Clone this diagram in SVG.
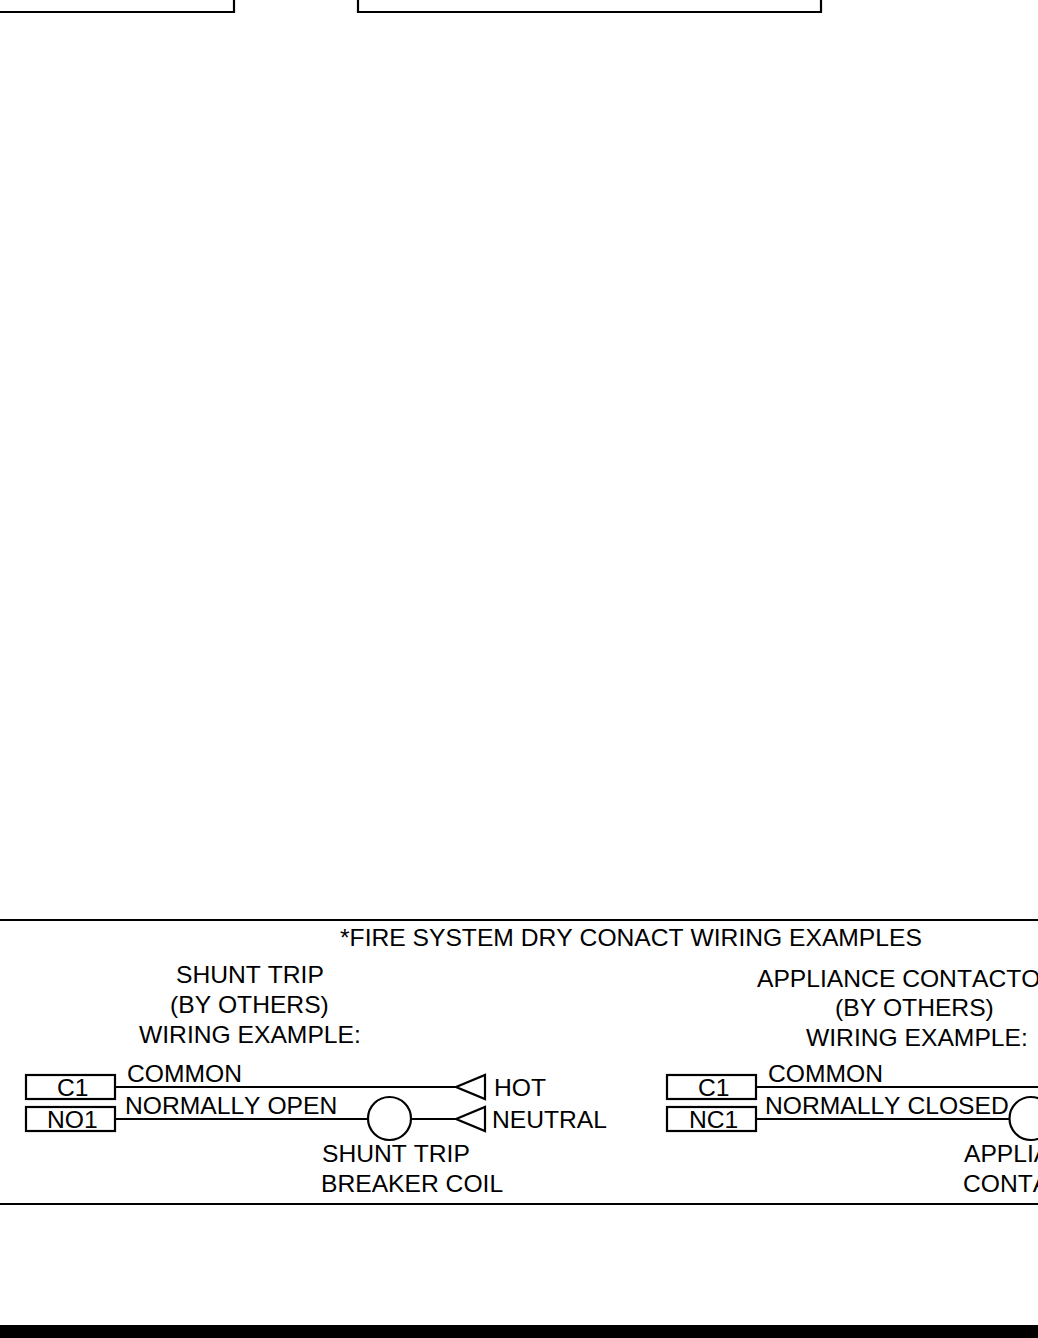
<svg xmlns="http://www.w3.org/2000/svg" width="1038" height="1338" viewBox="0 0 1038 1338">
<style>
.l{fill:none;stroke:#000;stroke-width:2.200}
.w{fill:#fff;stroke:#000;stroke-width:2.200}
text{font-family:"Liberation Sans",Arial,sans-serif;font-size:24.650px;font-kerning:none;fill:#000}
</style>
<rect width="1038" height="1338" fill="#fff"/>
<g id="top-boxes">
<path class="l" d="M-2 12H234V-2"/>
<path class="l" d="M358 -2V12H821V-2"/>
</g>
<g id="panel">
<path class="l" d="M0 920H1038M0 1204H1038"/>
<text x="340" y="945.700">*FIRE SYSTEM DRY CONACT WIRING EXAMPLES</text>
<text x="176" y="982.700">SHUNT TRIP</text>
<text x="170" y="1012.700">(BY OTHERS)</text>
<text x="139" y="1042.700">WIRING EXAMPLE:</text>
<text x="757" y="986.700">APPLIANCE CONTACTOR</text>
<text x="835" y="1015.700">(BY OTHERS)</text>
<text x="806" y="1045.700">WIRING EXAMPLE:</text>
</g>
<g id="connectors">
<path class="l" d="M115 1087H456M115 1119H368M411 1119H456"/>
<path class="l" d="M756 1087H1038M756 1119H1010"/>
</g>
<g id="term-c1-a"><rect class="w" x="26" y="1075" width="89" height="24"/><text x="57" y="1095.700">C1</text></g>
<g id="term-no1"><rect class="w" x="26" y="1107" width="89" height="24"/><text x="47" y="1127.700">NO1</text></g>
<g id="term-c1-b"><rect class="w" x="667" y="1075" width="89" height="24"/><text x="698" y="1095.700">C1</text></g>
<g id="term-nc1"><rect class="w" x="667" y="1107" width="89" height="24"/><text x="689" y="1127.700">NC1</text></g>
<g id="hot"><path class="w" d="M456 1087L485 1075V1099Z"/><text x="494" y="1095.700">HOT</text></g>
<g id="neutral"><path class="w" d="M456 1119L485 1107V1131Z"/><text x="492" y="1127.700">NEUTRAL</text></g>
<g id="coil-shunt"><circle class="w" cx="389.500" cy="1118.500" r="21.500"/></g>
<g id="coil-appliance"><circle class="w" cx="1031" cy="1118.500" r="21.500"/></g>
<g id="labels">
<text x="127" y="1081.500">COMMON</text>
<text x="125" y="1113.500">NORMALLY OPEN</text>
<text x="322" y="1161.700">SHUNT TRIP</text>
<text x="321" y="1191.700">BREAKER COIL</text>
<text x="768" y="1081.500">COMMON</text>
<text x="765" y="1113.500">NORMALLY CLOSED</text>
<text x="964" y="1161.700">APPLIANCE</text>
<text x="963" y="1191.700">CONTACTOR</text>
</g>
<rect id="bottom-bar" x="0" y="1325" width="1038" height="13" fill="#000"/>
</svg>
